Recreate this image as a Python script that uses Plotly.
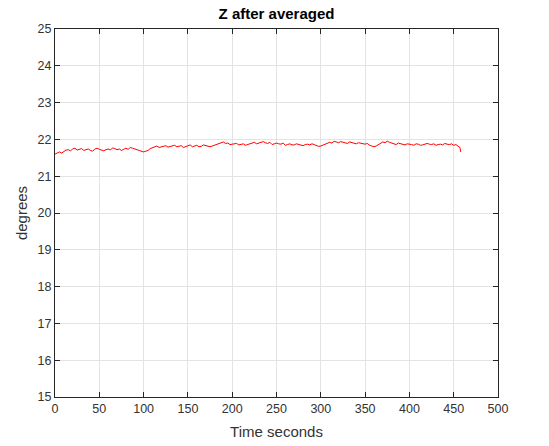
import plotly.graph_objects as go

time_s = [0, 2.5, 5, 7.5, 10, 12.5, 15, 17.5, 20, 22.5, 25, 27.5, 30, 32.5, 35, 37.5,
          40, 42.5, 45, 47.5, 50, 52.5, 55, 57.5, 60, 62.5, 65, 67.5, 70, 72.5, 75, 77.5,
          80, 82.5, 85, 87.5, 90, 92.5, 95, 97.5, 100, 102.5, 105, 107.5, 110, 112.5,
          115, 117.5, 120, 122.5, 125, 127.5, 130, 132.5, 135, 137.5, 140, 142.5, 145,
          147.5, 150, 152.5, 155, 157.5, 160, 162.5, 165, 167.5, 170, 172.5, 175, 177.5,
          180, 182.5, 185, 187.5, 190, 192.5, 195, 197.5, 200, 202.5, 205, 207.5, 210,
          212.5, 215, 217.5, 220, 222.5, 225, 227.5, 230, 232.5, 235, 237.5, 240, 242.5,
          245, 247.5, 250, 252.5, 255, 257.5, 260, 262.5, 265, 267.5, 270, 272.5, 275,
          277.5, 280, 282.5, 285, 287.5, 290, 292.5, 295, 297.5, 300, 302.5, 305, 307.5,
          310, 312.5, 315, 317.5, 320, 322.5, 325, 327.5, 330, 332.5, 335, 337.5, 340,
          342.5, 345, 347.5, 350, 352.5, 355, 357.5, 360, 362.5, 365, 367.5, 370, 372.5,
          375, 377.5, 380, 382.5, 385, 387.5, 390, 392.5, 395, 397.5, 400, 402.5, 405,
          407.5, 410, 412.5, 415, 417.5, 420, 422.5, 425, 427.5, 430, 432.5, 435, 437.5,
          440, 442.5, 445, 447.5, 450, 452.5, 455, 457, 458]
z_deg = [21.60, 21.64, 21.66, 21.63, 21.68, 21.71, 21.72, 21.69, 21.74, 21.76, 21.71, 21.73,
         21.75, 21.70, 21.72, 21.74, 21.70, 21.68, 21.74, 21.76, 21.73, 21.71, 21.69, 21.72,
         21.74, 21.71, 21.77, 21.75, 21.72, 21.74, 21.70, 21.73, 21.76, 21.73, 21.78, 21.76,
         21.75, 21.72, 21.70, 21.67, 21.66, 21.68, 21.70, 21.75, 21.78, 21.80, 21.82, 21.78,
         21.79, 21.82, 21.83, 21.79, 21.80, 21.83, 21.84, 21.80, 21.81, 21.83, 21.78, 21.80,
         21.83, 21.85, 21.80, 21.82, 21.84, 21.80, 21.81, 21.85, 21.83, 21.81, 21.80, 21.82,
         21.84, 21.86, 21.88, 21.91, 21.93, 21.89, 21.90, 21.86, 21.87, 21.90, 21.89, 21.85,
         21.86, 21.88, 21.84, 21.86, 21.88, 21.91, 21.92, 21.88, 21.90, 21.93, 21.94, 21.91,
         21.89, 21.92, 21.86, 21.88, 21.90, 21.88, 21.87, 21.90, 21.84, 21.86, 21.88, 21.85,
         21.85, 21.88, 21.86, 21.84, 21.83, 21.86, 21.87, 21.85, 21.88, 21.86, 21.84, 21.81,
         21.82, 21.84, 21.86, 21.89, 21.92, 21.90, 21.95, 21.93, 21.91, 21.94, 21.93, 21.90,
         21.89, 21.93, 21.92, 21.89, 21.88, 21.91, 21.90, 21.88, 21.87, 21.89, 21.84, 21.82,
         21.80, 21.82, 21.85, 21.89, 21.93, 21.91, 21.95, 21.92, 21.90, 21.88, 21.86, 21.90,
         21.89, 21.87, 21.85, 21.88, 21.88, 21.86, 21.84, 21.88, 21.87, 21.84, 21.85, 21.88,
         21.89, 21.87, 21.86, 21.88, 21.84, 21.86, 21.87, 21.85, 21.89, 21.87, 21.86, 21.88,
         21.84, 21.86, 21.82, 21.78, 21.66]

x_ticks = list(range(0, 501, 50))
y_ticks = list(range(15, 26, 1))

FONT = "Liberation Sans, Arial, Helvetica, sans-serif"

fig = go.Figure(go.Scatter(x=time_s, y=z_deg, mode="lines",
                           line=dict(color="#ff0000", width=1), showlegend=False))

axis_common = dict(
    showgrid=True, gridcolor="#e3e3e3", gridwidth=1,
    showline=True, linecolor="#262626", linewidth=1, mirror="ticks",
    ticks="inside", ticklen=5, tickcolor="#262626",
    tickfont=dict(family=FONT, size=12.5, color="#333333"),
    zeroline=False, automargin=False,
)

fig.update_layout(
    width=549, height=446,
    margin=dict(l=55, r=51, t=29, b=49),
    paper_bgcolor="white", plot_bgcolor="white",
    title=dict(text="<b>Z after averaged</b>", x=0.5, xanchor="center", y=0.97, yanchor="middle",
               xref="paper",
               font=dict(family=FONT, size=15, color="#000000")),
    xaxis=dict(range=[0, 500], tickvals=x_ticks,
               title=dict(text="Time seconds", standoff=11,
                          font=dict(family=FONT, size=15, color="#333333")),
               **axis_common),
    yaxis=dict(range=[15, 25], tickvals=y_ticks,
               title=dict(text="degrees", standoff=6,
                          font=dict(family=FONT, size=15, color="#333333")),
               **axis_common),
)

fig.write_html("out.html")
